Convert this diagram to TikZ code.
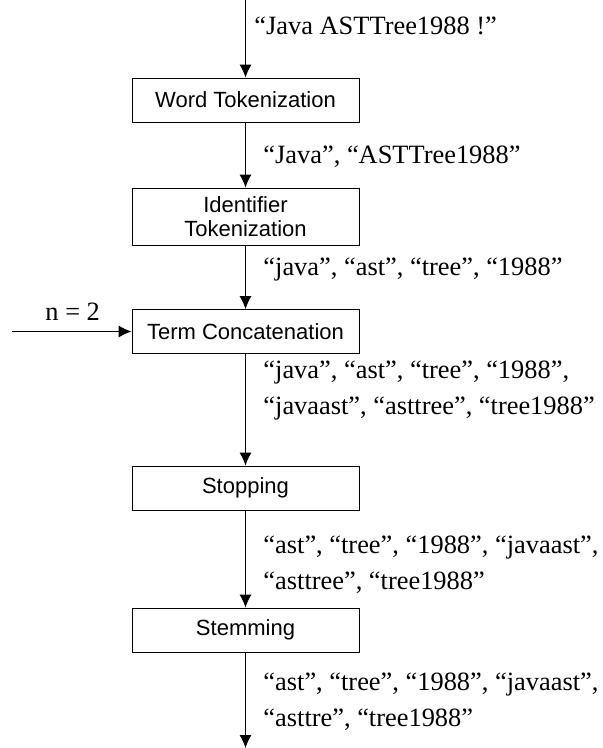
\documentclass[tikz,border=0pt]{standalone}
\usepackage{fontspec}
\setmainfont{Liberation Serif}
\newfontfamily\boxfont{Liberation Sans}
\usetikzlibrary{arrows.meta,positioning}

\begin{document}
\begin{tikzpicture}[x=1pt,y=-1pt,>={Latex[length=13pt,width=12pt]},line width=0.9pt,
    stepbox/.style={draw,minimum width=227pt,minimum height=44pt,inner sep=2pt,
      align=center,font=\boxfont\fontsize{22}{24}\selectfont},
    lbl/.style={anchor=west,align=left,inner sep=0pt,font=\fontsize{26.4}{36}\selectfont}]
    \useasboundingbox (0,0) rectangle (603,748);
    \coordinate (in) at (245.5,0);
    \coordinate (out) at (245.5,748);
    \coordinate (nin) at (12,331.5);
    \node[stepbox] (word) at (245.5,100) {Word Tokenization};
    \node[stepbox,minimum height=57pt] (ident) at (245.5,216.5) {Identifier\\Tokenization};
    \node[stepbox] (concat) at (245.5,331.5) {Term Concatenation};
    \node[stepbox] (stop) at (245.5,488) {Stopping};
    \node[stepbox] (stem) at (245.5,630) {Stemming};
    \draw[->] (in) -- (word);
    \draw[->] (word) -- (ident);
    \draw[->] (ident) -- (concat);
    \draw[->] (nin) -- (concat);
    \draw[->] (concat) -- (stop);
    \draw[->] (stop) -- (stem);
    \draw[->] (stem) -- (out);
    % token lists
    \node[lbl] (t0) at (254,26) {“Java ASTTree1988 !”};
    \node[lbl] (t1) at (263,157) {“Java”, “ASTTree1988”};
    \node[lbl] (t2) at (263,270) {“java”, “ast”, “tree”, “1988”};
    \node[lbl] (t3) at (263,391) {“java”, “ast”, “tree”, “1988”,\\“javaast”, “asttree”, “tree1988”};
    \node[lbl] (t4) at (263,565) {“ast”, “tree”, “1988”, “javaast”,\\“asttree”, “tree1988”};
    \node[lbl] (t5) at (263,702) {“ast”, “tree”, “1988”, “javaast”,\\“asttre”, “tree1988”};
    \node[lbl] (n) at (45,312) {n = 2};
\end{tikzpicture}
\end{document}
